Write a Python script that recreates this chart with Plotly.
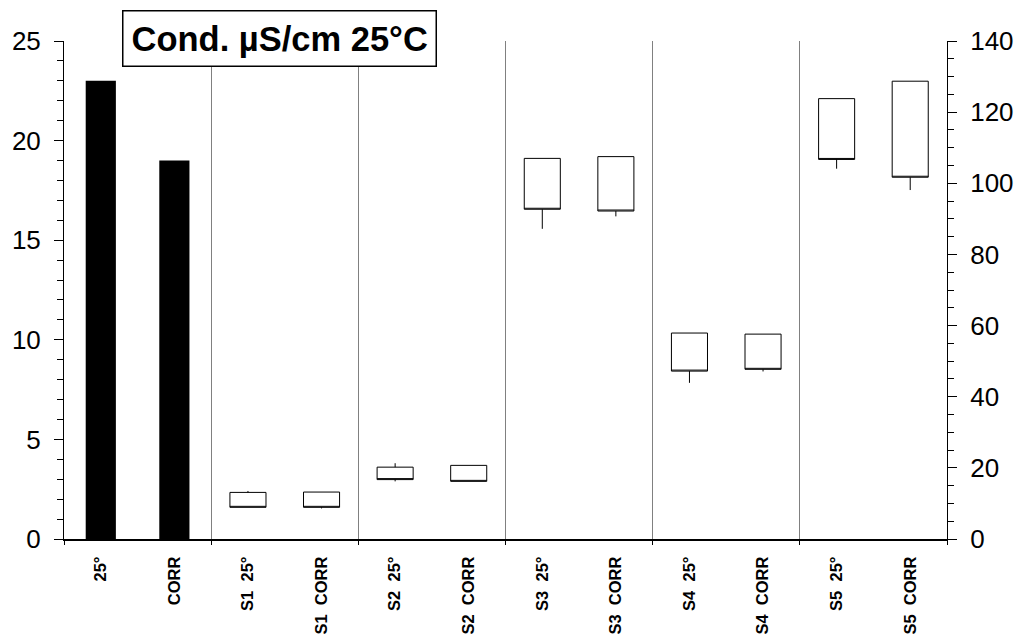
import plotly.graph_objects as go

NB = "\u00a0"
categories = ["25°", "CORR",
              f"S1{NB}{NB}25°", f"S1{NB}{NB}CORR",
              f"S2{NB}{NB}25°", f"S2{NB}{NB}CORR",
              f"S3{NB}{NB}25°", f"S3{NB}{NB}CORR",
              f"S4{NB}{NB}25°", f"S4{NB}{NB}CORR",
              f"S5{NB}{NB}25°", f"S5{NB}{NB}CORR"]

# black bars (left axis)
bar_x = categories[:2]
bar_y = [23, 19]

# open boxes (right axis)
box_x = categories[2:]
box_low = [8.9, 8.6, 16.2, 16.2, 87.2, 90.7, 43.9, 47.1, 104.1, 98.1]
box_bottom = [8.9, 8.9, 16.7, 16.2, 92.7, 92.2, 47.2, 47.7, 106.7, 101.7]
box_top = [13.1, 13.2, 20.2, 20.7, 107.0, 107.5, 57.9, 57.6, 123.8, 128.7]
box_high = [13.5, 13.2, 21.3, 20.7, 107.0, 107.5, 57.9, 57.6, 123.8, 128.7]

# group boundaries (between category pairs)
group_bounds = [-0.5, 1.5, 3.5, 5.5, 7.5, 9.5, 11.5]

FONT = "Liberation Sans, Arial, sans-serif"

# numeric positions of the box categories on the shared category scale
box_pos = [categories.index(c) for c in box_x]

fig = go.Figure()
fig.add_trace(go.Bar(x=bar_x, y=bar_y, width=0.41, marker=dict(color="black", line=dict(width=0)),
                     xaxis="x", yaxis="y", showlegend=False))
fig.add_trace(go.Box(x=box_pos, q1=box_bottom, median=box_bottom, q3=box_top,
                     lowerfence=box_low, upperfence=box_high, width=0.49,
                     whiskerwidth=0, fillcolor="white", line=dict(color="black", width=1),
                     xaxis="x2", yaxis="y2", showlegend=False, boxpoints=False))

fig.update_layout(
    width=1025, height=637,
    margin=dict(l=64, r=78, t=41, b=98),
    paper_bgcolor="white", plot_bgcolor="white",
    font=dict(family=FONT, color="black"),
    xaxis=dict(type="category", categoryorder="array", categoryarray=categories,
               range=[-0.5, 11.5], ticks="", showgrid=False, automargin=False,
               showline=True, linecolor="black", linewidth=2, tickangle=-90,
               tickfont=dict(size=16.5, weight="bold", family=FONT), ticklabelstandoff=9,
               zeroline=False),
    xaxis2=dict(type="linear", overlaying="x", side="bottom", anchor="y2", range=[-0.5, 11.5],
                tickmode="array", tickvals=group_bounds, showticklabels=False,
                ticks="outside", ticklen=5, tickcolor="black", automargin=False,
                showgrid=True, gridcolor="#808080", gridwidth=1,
                showline=False, zeroline=False),
    xaxis3=dict(type="linear", overlaying="x", side="top", anchor="y", showline=True,
                linecolor="black", linewidth=1, automargin=False,
                showticklabels=False, ticks="", showgrid=False, zeroline=False, range=[0, 1]),
    yaxis=dict(range=[0, 25], dtick=5, ticks="outside", ticklen=9, tickcolor="black",
               showline=True, linecolor="black", linewidth=1, showgrid=False, zeroline=False,
               tickfont=dict(size=26, family=FONT), ticklabelstandoff=8, automargin=False,
               minor=dict(dtick=1, ticks="outside", ticklen=6, tickcolor="black", showgrid=False)),
    yaxis2=dict(range=[0, 140], dtick=20, overlaying="y", side="right", anchor="x2", ticks="outside",
                ticklen=9, tickcolor="black", showline=True, linecolor="black", linewidth=1,
                showgrid=False, zeroline=False, tickfont=dict(size=26, family=FONT),
                ticklabelstandoff=8, automargin=False,
                minor=dict(dtick=5, ticks="outside", ticklen=6, tickcolor="black", showgrid=False)),
    annotations=[dict(text="<b>Cond. µS/cm 25°C</b>", xref="paper", yref="paper",
                      x=0.2435, y=1.006, xanchor="center", yanchor="middle", showarrow=False,
                      font=dict(size=34.5, family=FONT, color="black"),
                      bgcolor="white", bordercolor="black", borderwidth=1.5, borderpad=8)],
)

fig.write_html("out.html")
